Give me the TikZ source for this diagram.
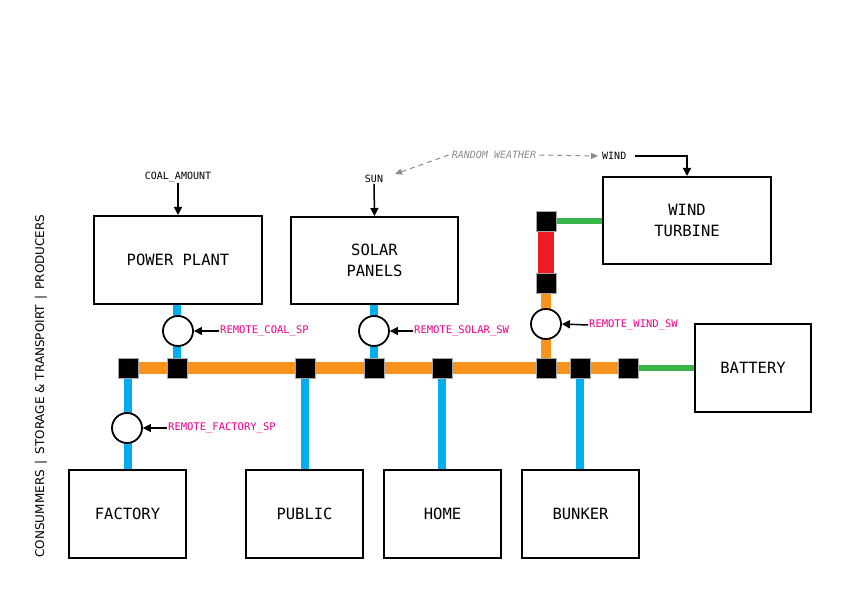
\documentclass[tikz,border=0pt]{standalone}
\usepackage{fontspec}
\setmainfont{DejaVu Sans}
\newfontfamily\monof{DejaVu Sans Mono}
\usetikzlibrary{arrows.meta}
\pgfdeclarelayer{bg}
\pgfdeclarelayer{paper}
\pgfsetlayers{paper,bg,main}
\definecolor{busorange}{RGB}{247,148,30}
\definecolor{wireblue}{RGB}{0,174,239}
\definecolor{wirered}{RGB}{237,28,36}
\definecolor{wiregreen}{RGB}{57,181,74}
\definecolor{lblpink}{RGB}{236,0,140}
\definecolor{weathergray}{RGB}{140,140,140}
\tikzset{
  unitbox/.style={draw=black,line width=2pt,fill=white,minimum width=#1,align=center,inner sep=0pt,
    font=\monof\fontsize{15.5}{21}\selectfont},
  unitbox/.default=168pt,
  junction/.style={draw=gray!70,line width=0.6pt,fill=black,minimum size=20pt,inner sep=0pt},
  switchc/.style={circle,draw=black,line width=1.8pt,fill=white,minimum size=30pt,inner sep=0pt},
  pinklbl/.style={text=lblpink,font=\monof\fontsize{10.5}{12}\selectfont,anchor=west,inner sep=1pt},
  toplbl/.style={font=\monof\fontsize{10}{12}\selectfont,inner sep=1pt},
  ctrlarrow/.style={line width=1.5pt,-{Triangle[length=8pt,width=8pt]}},
  orangewire/.style={busorange,line width=12pt},
  bluewire/.style={wireblue,line width=8pt},
  greenwire/.style={wiregreen,line width=6pt},
  redwire/.style={wirered,line width=16pt},
  weatherarrow/.style={weathergray,line width=1pt,dash pattern=on 5pt off 4pt,-{Triangle[length=7pt,width=6pt]}}
}
\begin{document}
\begin{tikzpicture}[x=1pt,y=-1pt]
\begin{pgfonlayer}{paper}
\fill[white] (0,0) rectangle (843,596);
\end{pgfonlayer}
\useasboundingbox (0,0) rectangle (843,596);

% boxes
\node[unitbox,minimum height=88pt] (pp) at (178,260) {POWER PLANT};
\node[unitbox=167pt,minimum height=87pt] (solar) at (374.5,260.5) {SOLAR\\PANELS};
\node[unitbox,minimum height=87pt] (wind) at (687,220.5) {WIND\\TURBINE};
\node[unitbox=116pt,minimum height=88pt] (battery) at (753,368) {BATTERY};
\node[unitbox=117pt,minimum height=88pt] (factory) at (127.5,514) {FACTORY};
\node[unitbox=117pt,minimum height=88pt] (public) at (304.5,514) {PUBLIC};
\node[unitbox=117pt,minimum height=88pt] (home) at (442.5,514) {HOME};
\node[unitbox=117pt,minimum height=88pt] (bunker) at (580.5,514) {BUNKER};

% junctions
\node[junction] (j1) at (128,368) {};
\node[junction] (j2) at (177,368) {};
\node[junction] (j3) at (305,368) {};
\node[junction] (j4) at (374,368) {};
\node[junction] (j5) at (442,368) {};
\node[junction] (j6) at (546,368) {};
\node[junction] (j7) at (580,368) {};
\node[junction] (j8) at (628,368) {};
\node[junction] (jw1) at (546,221) {};
\node[junction] (jw2) at (546,283) {};

% switches
\node[switchc] (ccoal) at (178,331) {};
\node[switchc] (csolar) at (374,331) {};
\node[switchc] (cfactory) at (127,428) {};
\node[switchc] (cwind) at (546,324) {};

% wires
\begin{pgfonlayer}{bg}
\draw[orangewire] (j1.center) -- (j8.center);
\draw[orangewire,line width=10pt] (jw2.center) -- (j6.center);
\draw[redwire] (jw1.center) -- (jw2.center);
\draw[greenwire] (jw1.center) -- (wind.west |- jw1);
\draw[greenwire] (j8.center) -- (battery.west);
\draw[bluewire] (pp.south -| j2) -- (j2.center);
\draw[bluewire] (solar.south -| j4) -- (j4.center);
\draw[bluewire] (j1.center) -- (factory.north -| j1);
\draw[bluewire] (j3.center) -- (public.north -| j3);
\draw[bluewire] (j5.center) -- (home.north -| j5);
\draw[bluewire] (j7.center) -- (bunker.north -| j7);
\end{pgfonlayer}

% remote labels
\node[pinklbl] (lcoal) at (219,331) {REMOTE\_COAL\_SP};
\node[pinklbl] (lsolar) at (413,331) {REMOTE\_SOLAR\_SW};
\node[pinklbl] (lwind) at (588,325) {REMOTE\_WIND\_SW};
\node[pinklbl] (lfactory) at (167,428) {REMOTE\_FACTORY\_SP};
\draw[ctrlarrow] (lcoal.west) -- (ccoal.east);
\draw[ctrlarrow] (lsolar.west) -- (csolar.east);
\draw[ctrlarrow] (lwind.west) -- (cwind.east);
\draw[ctrlarrow] (lfactory.west) -- (cfactory.east);

% inputs
\node[toplbl] (coal) at (178,177) {COAL\_AMOUNT};
\node[toplbl] (sun) at (374,179) {SUN};
\node[toplbl,anchor=west] (windin) at (601,156) {WIND};
\node[toplbl,inner sep=3pt,text=weathergray,font=\monof\itshape\fontsize{10}{12}\selectfont] (weather) at (494,155) {RANDOM WEATHER};
\draw[ctrlarrow] (coal.south) -- (pp.north);
\draw[ctrlarrow] (sun.south) -- (solar.north);
\draw[ctrlarrow] ([xshift=8pt]windin.east) -| (wind.north);
\draw[weatherarrow] (weather.east) -- ([xshift=-3pt]windin.west);
\draw[weatherarrow] (weather.west) -- (395,174);

% side legend
\node[rotate=90,font=\fontsize{12}{14}\selectfont,inner sep=0pt] (legend) at (41,386)
  {CONSUMMERS \,|\, STORAGE \& TRANSPOIRT \,|\, PRODUCERS};
\end{tikzpicture}
\end{document}
